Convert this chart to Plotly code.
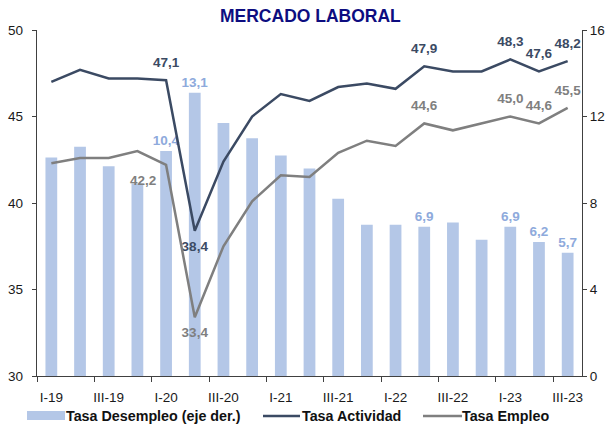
import plotly.graph_objects as go

quarters = ["I-19", "II-19", "III-19", "IV-19", "I-20", "II-20", "III-20", "IV-20",
            "I-21", "II-21", "III-21", "IV-21", "I-22", "II-22", "III-22", "IV-22",
            "I-23", "II-23", "III-23"]
desempleo = [10.1, 10.6, 9.7, 8.9, 10.4, 13.1, 11.7, 11.0, 10.2, 9.6, 8.2, 7.0,
             7.0, 6.9, 7.1, 6.3, 6.9, 6.2, 5.7]
actividad = [47.0, 47.7, 47.2, 47.2, 47.1, 38.4, 42.4, 45.0, 46.3, 45.9, 46.7, 46.9,
             46.6, 47.9, 47.6, 47.6, 48.3, 47.6, 48.2]
empleo = [42.3, 42.6, 42.6, 43.0, 42.2, 33.4, 37.5, 40.1, 41.6, 41.5, 42.9, 43.6,
          43.3, 44.6, 44.2, 44.6, 45.0, 44.6, 45.5]
labeled = [4, 5, 13, 16, 17, 18]
tick_labels = quarters[::2]
series_names = ["Tasa Desempleo (eje der.)", "Tasa Actividad", "Tasa Empleo"]

x = list(range(len(quarters)))

def fmt(v):
    return f"{v:.1f}".replace(".", ",")

def labels(vals):
    return [fmt(v) if i in labeled else "" for i, v in enumerate(vals)]

FONT = "Liberation Sans, Arial, sans-serif"
C_BAR = "#b4c7e7"
C_BARTXT = "#8eaadc"
C_ACT = "#3b4a63"
C_EMP = "#7f7f7f"
C_AX = "#404040"
C_TXT = "#1a1a1a"
LBL_SIZE = 13.5
TICK_SIZE = 13.5

W, H = 611, 425
ML, MR, MT, MB = 37, 29, 30, 49
PW, PH = W - ML - MR, H - MT - MB

def px(xp):
    return (xp - ML) / PW

def py(yp):
    return (H - MB - yp) / PH

act_pos = ["top center"] * len(x)
act_pos[5] = "bottom center"
emp_pos = ["top center"] * len(x)
emp_pos[4] = "bottom left"
emp_pos[5] = "bottom center"

TRANSP = "rgba(0,0,0,0)"

fig = go.Figure()
fig.add_trace(go.Bar(
    x=x, y=desempleo, name=series_names[0], yaxis="y",
    marker=dict(color=C_BAR, line=dict(width=0)), width=0.41,
    text=labels(desempleo), textposition="outside", cliponaxis=False,
    constraintext="none",
    outsidetextfont=dict(family=FONT, size=LBL_SIZE, color=C_BARTXT, weight="bold"),
))
fig.add_trace(go.Scatter(
    x=x, y=actividad, name=series_names[1], yaxis="y2",
    mode="lines+markers+text", line=dict(color=C_ACT, width=2.5),
    marker=dict(size=14, color=TRANSP), cliponaxis=False,
    text=labels(actividad), textposition=act_pos,
    textfont=dict(family=FONT, size=LBL_SIZE, color=C_ACT, weight="bold"),
))
fig.add_trace(go.Scatter(
    x=x, y=empleo, name=series_names[2], yaxis="y2",
    mode="lines+markers+text", line=dict(color=C_EMP, width=2.5),
    marker=dict(size=14, color=TRANSP), cliponaxis=False,
    text=labels(empleo), textposition=emp_pos,
    textfont=dict(family=FONT, size=LBL_SIZE, color=C_EMP, weight="bold"),
))

# custom legend (symbols + labels) below the plot
LEG_Y = 416
shapes = [
    dict(type="rect", xref="paper", yref="paper", x0=px(27), x1=px(65),
         y0=py(420), y1=py(411), fillcolor=C_BAR, line=dict(width=0)),
    dict(type="line", xref="paper", yref="paper", x0=px(263), x1=px(300),
         y0=py(LEG_Y), y1=py(LEG_Y), line=dict(color=C_ACT, width=2.5)),
    dict(type="line", xref="paper", yref="paper", x0=px(423), x1=px(462),
         y0=py(LEG_Y), y1=py(LEG_Y), line=dict(color=C_EMP, width=2.5)),
]
annotations = [
    dict(text=name, xref="paper", yref="paper", x=px(xs), y=py(LEG_Y),
         xanchor="left", yanchor="middle", showarrow=False,
         font=dict(family=FONT, size=14.3, color="#111111", weight="bold"))
    for name, xs in zip(series_names, [64, 300, 460])
]

fig.update_layout(
    width=W, height=H,
    margin=dict(l=ML, r=MR, t=MT, b=MB, autoexpand=False),
    paper_bgcolor="white", plot_bgcolor="white",
    font=dict(family=FONT, size=TICK_SIZE, color=C_TXT),
    title=dict(text="<b>MERCADO LABORAL</b>", x=0.508, xanchor="center",
               xref="container", yref="container",
               y=1 - 16 / H, yanchor="middle",
               font=dict(family=FONT, size=17.5, color="#0d0d80")),
    showlegend=False,
    shapes=shapes,
    annotations=annotations,
    xaxis=dict(
        range=[-0.5, len(x) - 0.5], tickmode="array", tickvals=x[::2],
        ticktext=tick_labels, ticks="outside", ticklen=9, tickcolor=TRANSP,
        showline=True, linecolor=C_AX,
        linewidth=1.3, showgrid=False, zeroline=False, automargin=False,
        minor=dict(tickmode="linear", tick0=-0.5, dtick=2, ticks="outside",
                   ticklen=5, tickwidth=1.3, tickcolor=C_AX),
        tickfont=dict(family=FONT, size=TICK_SIZE, color=C_TXT),
    ),
    yaxis=dict(
        side="right", range=[0, 16], tickvals=[0, 4, 8, 12, 16],
        ticks="outside", ticklen=4, tickcolor=C_AX, showline=True,
        linecolor=C_AX, linewidth=1.3, showgrid=False, zeroline=False,
        automargin=False,
        tickfont=dict(family=FONT, size=TICK_SIZE, color=C_TXT),
    ),
    yaxis2=dict(
        side="left", overlaying="y", range=[30, 50], tickvals=[30, 35, 40, 45, 50],
        ticks="outside", ticklen=4, tickcolor=C_AX, showline=True,
        linecolor=C_AX, linewidth=1.3, showgrid=False, zeroline=False,
        automargin=False, ticklabelstandoff=6,
        tickfont=dict(family=FONT, size=TICK_SIZE, color=C_TXT),
    ),
)

fig.write_html(
    "out.html",
    config={"displayModeBar": False},
    post_script="document.body.style.margin='0';document.body.style.overflow='hidden';",
)
